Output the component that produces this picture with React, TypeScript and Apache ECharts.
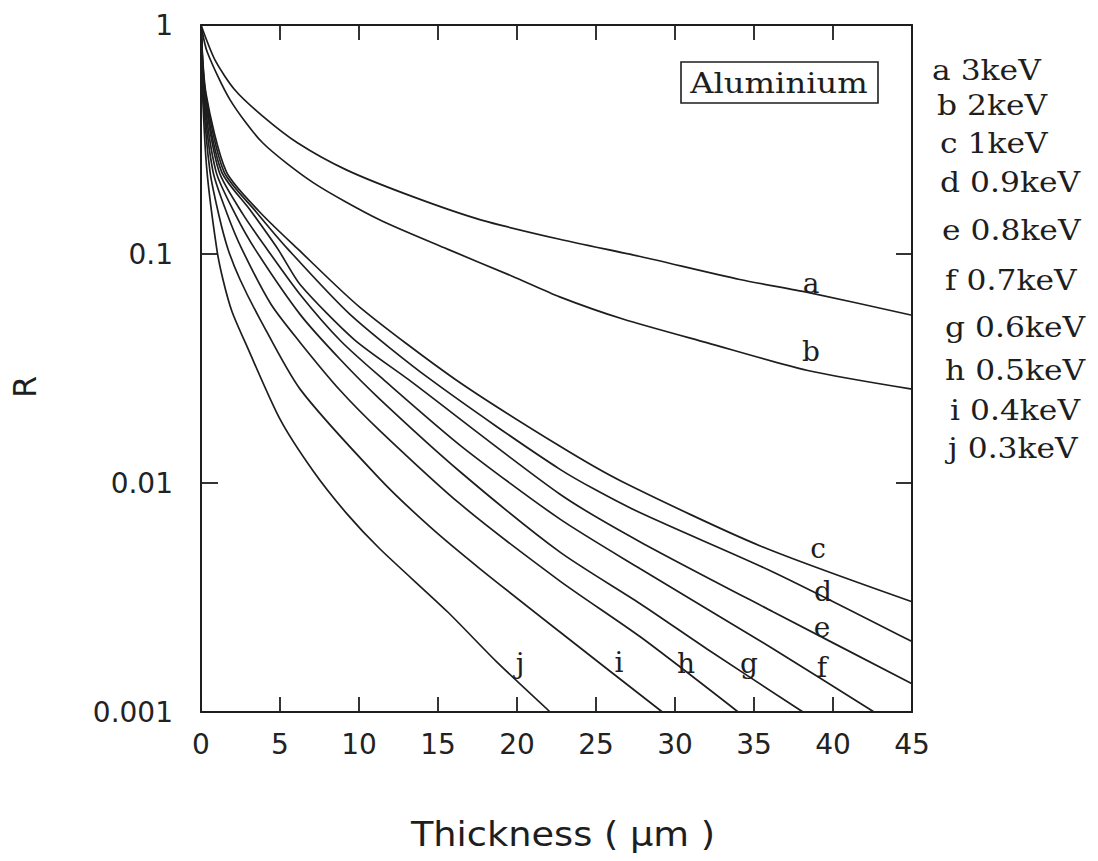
import React, { useEffect, useRef } from "react";
import * as echarts from "echarts";

// Thickness (µm) vs R
const curveA = [[0, 1], [0.9, 0.7], [2.15, 0.52], [3.9, 0.4], [6.1, 0.306], [9.2, 0.233], [13.4, 0.178], [17.7, 0.141], [22.7, 0.116], [27.8, 0.0975], [34.1, 0.0774], [38.4, 0.068], [45, 0.054]];
const curveB = [[0, 1], [0.4, 0.76], [1.84, 0.471], [3.9, 0.306], [7.1, 0.205], [11.3, 0.141], [15.6, 0.105], [19.7, 0.08], [22.7, 0.065], [26.7, 0.052], [32.0, 0.041], [38.4, 0.031], [45, 0.0257]];
const curveC = [[0, 1], [0.32, 0.5], [1.6, 0.229], [3.7, 0.153], [6.14, 0.105], [10.06, 0.0585], [16.08, 0.0284], [22.7, 0.0145], [26.7, 0.0101], [35.4, 0.00531], [45, 0.00303]];
const curveD = [[0, 1], [0.29, 0.5], [1.45, 0.229], [3.48, 0.153], [5.5, 0.105], [9.43, 0.0545], [14.5, 0.0284], [22.7, 0.0115], [27.3, 0.0077], [36.2, 0.00409], [45, 0.00203]];
const curveE = [[0, 1], [0.26, 0.5], [1.3, 0.229], [3.1, 0.156], [4.87, 0.105], [6.27, 0.0736], [9.68, 0.0424], [13.1, 0.0284], [22.7, 0.00895], [27.8, 0.00553], [36.2, 0.00274], [45, 0.00133]];
const curveF = [[0, 1], [0.22, 0.5], [1.14, 0.229], [2.66, 0.149], [4.18, 0.105], [6.27, 0.0666], [8.86, 0.0416], [11.52, 0.0284], [16.46, 0.0145], [22.7, 0.00697], [27.8, 0.00422], [36.2, 0.00189], [42.6, 0.001]];
const curveG = [[0, 1], [0.19, 0.5], [0.95, 0.229], [2.15, 0.15], [3.42, 0.105], [6.27, 0.0545], [8.8, 0.0347], [11.33, 0.0232], [16.4, 0.0112], [22.7, 0.005], [27.8, 0.00297], [32.0, 0.00189], [38.1, 0.001]];
const curveH = [[0, 1], [0.16, 0.5], [0.76, 0.229], [1.65, 0.15], [2.59, 0.105], [4.43, 0.0603], [6.27, 0.0411], [8.8, 0.0254], [11.33, 0.0169], [16.4, 0.0081], [22.7, 0.00374], [27.8, 0.00213], [34.0, 0.001]];
const curveI = [[0, 1], [0.13, 0.5], [0.57, 0.229], [1.14, 0.147], [1.71, 0.105], [2.47, 0.0774], [3.73, 0.052], [6.27, 0.0257], [11.33, 0.0104], [14.5, 0.00643], [17.66, 0.00422], [22.7, 0.00224], [29.2, 0.001]];
const curveJ = [[0, 1], [0.1, 0.5], [0.38, 0.229], [1.0, 0.105], [1.39, 0.0774], [1.96, 0.0561], [2.91, 0.0395], [5.0, 0.019], [7.1, 0.01128], [9.24, 0.00733], [11.33, 0.00515], [15.6, 0.00274], [18.7, 0.00166], [22.1, 0.001]];

const curves = [curveA, curveB, curveC, curveD, curveE, curveF, curveG, curveH, curveI, curveJ];
const letters = ["a", "b", "c", "d", "e", "f", "g", "h", "i", "j"];
const energies = ["3keV", "2keV", "1keV", "0.9keV", "0.8keV", "0.7keV", "0.6keV", "0.5keV", "0.4keV", "0.3keV"];
const yTickLabels = ["1", "0.1", "0.01", "0.001"];

// pixel layout of legend rows and curve labels
const legendPos = [[932, 70], [937, 105], [940, 143], [940, 182], [942, 230], [945, 280], [945, 327], [945, 370], [950, 410], [948, 448]];
const curveLabelPos = [[811, 283], [811, 351], [818, 548], [823, 591], [822, 627], [822, 667], [749, 663], [686, 663], [619, 662], [520, 663]];

const INK = "#1e1e1e";
const SERIF = '"DejaVu Serif", "Liberation Serif", serif';
const SANS = '"DejaVu Sans", "Open Sans", sans-serif';

function fmtY(v: number): string {
  const s = Number(v.toPrecision(1)).toString();
  return yTickLabels.includes(s) ? s : "";
}

export default function App() {
  const ref = useRef<HTMLDivElement>(null);
  useEffect(() => {
    document.body.style.margin = "0";
    const chart = echarts.init(ref.current!, null, { renderer: "svg" });

    const txt = (text: string, x: number, y: number, font: string, align: string, extra: any = {}) => ({
      type: "text",
      x,
      y,
      originX: 0,
      originY: 0,
      ...extra,
      style: {
        text,
        font,
        fill: INK,
        align,
        textAlign: align,
        verticalAlign: "middle",
        textVerticalAlign: "middle",
      },
    });

    const graphics: any[] = [];
    letters.forEach((l, i) => {
      graphics.push(txt(`${l} ${energies[i]}`, legendPos[i][0], legendPos[i][1], `28px ${SERIF}`, "left", { scaleX: 1.12 }));
      graphics.push(txt(l, curveLabelPos[i][0], curveLabelPos[i][1], `28px ${SERIF}`, "center"));
    });
    graphics.push({
      type: "rect",
      shape: { x: 681, y: 62, width: 197, height: 41 },
      style: { fill: "none", stroke: INK, lineWidth: 1.6 },
    });
    graphics.push(txt("Aluminium", 779, 83, `28px ${SERIF}`, "center", { scaleX: 1.15 }));
    graphics.push(txt("Thickness ( μm )", 563, 834, `34px ${SANS}`, "center", { scaleX: 1.08 }));
    graphics.push(txt("R", 25, 387, `32px ${SANS}`, "center", { rotation: Math.PI / 2 }));

    const axisLine = { show: true, onZero: false, lineStyle: { color: INK, width: 2 } };
    const xBase = { type: "value", min: 0, max: 45, interval: 5, splitLine: { show: false }, axisLine };
    const yBase = { type: "log", logBase: 10, min: 0.001, max: 1, splitLine: { show: false }, minorTick: { show: false }, axisLine };

    const option: any = {
      animation: false,
      backgroundColor: "#ffffff",
      grid: { left: 201, right: 186, top: 25, bottom: 149, containLabel: false },
      xAxis: [
        {
          ...xBase,
          position: "bottom",
          axisTick: { show: true, inside: true, length: 15, lineStyle: { color: INK, width: 1.8 } },
          axisLabel: { show: true, margin: 18, fontSize: 28, fontFamily: SANS, color: "#222" },
        },
        {
          ...xBase,
          position: "top",
          axisTick: { show: true, inside: true, length: 15, lineStyle: { color: INK, width: 1.8 } },
          axisLabel: { show: false },
        },
      ],
      yAxis: [
        {
          ...yBase,
          position: "left",
          axisTick: { show: true, inside: true, length: 17, lineStyle: { color: INK, width: 1.8 } },
          axisLabel: { show: true, margin: 28, fontSize: 28, fontFamily: SANS, color: "#222", formatter: fmtY },
        },
        {
          ...yBase,
          position: "right",
          axisTick: { show: true, inside: true, length: 16, lineStyle: { color: INK, width: 1.8 } },
          axisLabel: { show: false },
        },
      ],
      series: curves.map((c, i) => ({
        type: "line",
        name: letters[i],
        data: c,
        xAxisIndex: 0,
        yAxisIndex: 0,
        showSymbol: false,
        symbol: "none",
        smooth: 0.25,
        clip: true,
        lineStyle: { color: INK, width: 1.7 },
      })),
      graphic: graphics,
    };
    chart.setOption(option);
    return () => chart.dispose();
  }, []);
  return <div ref={ref} style={{ width: 1098, height: 861 }} />;
}
